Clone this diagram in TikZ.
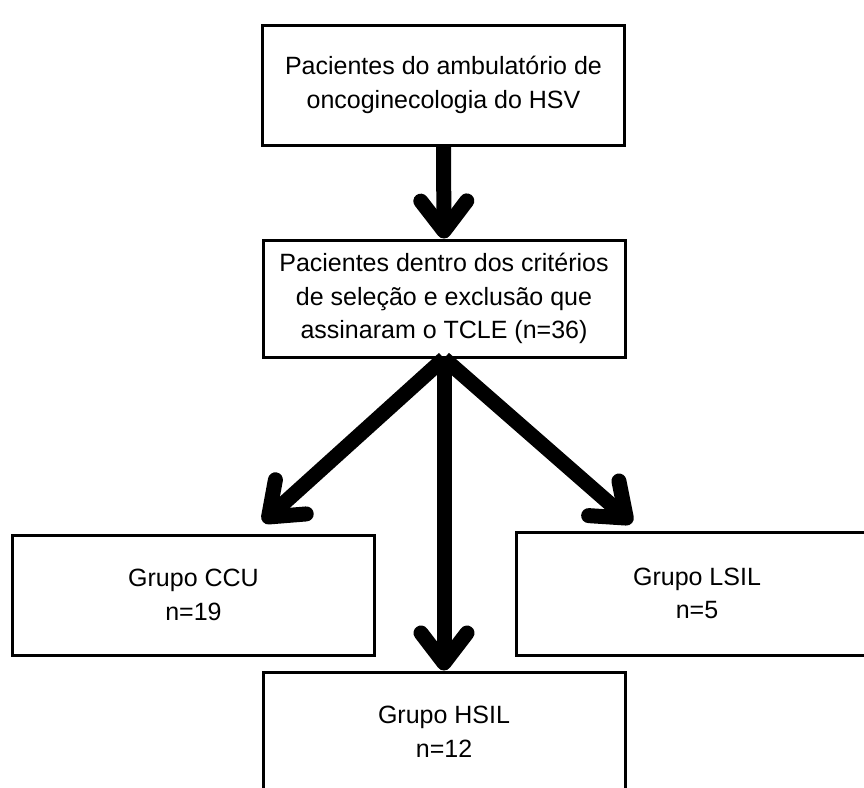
\documentclass[tikz,border=0pt]{standalone}
\usepackage{fontspec}
\setmainfont{Liberation Sans}
\usetikzlibrary{arrows.meta}

\begin{document}
\begin{tikzpicture}[
    x=1pt, y=-1pt,
    box/.style={draw, line width=3pt, align=center, inner sep=0pt,
      minimum width=362pt, minimum height=120pt,
      font=\fontsize{25}{33.5}\selectfont},
    arr/.style={line width=15pt, -{Straight Barb[length=30pt, width=46pt, round]}}
  ]
    \useasboundingbox (0,0) rectangle (864,787);
    \clip (0,0) rectangle (864,787);
    \node[box] (top) at (443.5,85) {Pacientes do ambulatório de\\oncoginecologia do HSV};
    \node[box, minimum height=117pt] (sel) at (444,298.5) {Pacientes dentro dos critérios\\de seleção e exclusão que\\assinaram o TCLE (n=36)};
    \node[box] (ccu) at (193.5,595) {Grupo CCU\\n=19};
    \node[box, minimum height=123pt] (lsil) at (697,593.5) {Grupo LSIL\\n=5};
    \node[box] (hsil) at (444,732) {Grupo HSIL\\n=12};
    \coordinate (ccuin) at (263,522);
    \coordinate (lsilin) at (632,523);
    \draw[arr] (top.south) -- (sel.north);
    \draw[arr] (sel.south) -- (ccuin);
    \draw[arr] (sel.south) -- (hsil.north);
    \draw[arr] (sel.south) -- (lsilin);
  \end{tikzpicture}
\end{document}
